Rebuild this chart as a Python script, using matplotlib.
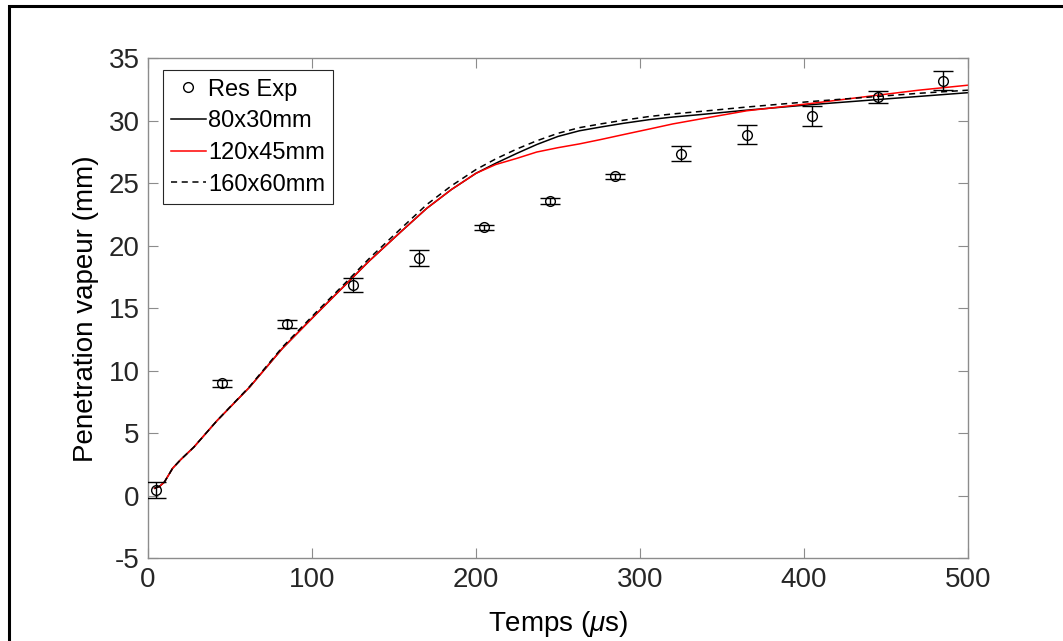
import matplotlib
matplotlib.use('Agg')
import matplotlib.pyplot as plt
from matplotlib.patches import Rectangle
from matplotlib.lines import Line2D
import numpy as np

plt.rcParams['font.family'] = ['Liberation Sans', 'DejaVu Sans']
plt.rcParams['mathtext.fontset'] = 'custom'
plt.rcParams['mathtext.it'] = 'Liberation Sans:italic'
plt.rcParams['mathtext.rm'] = 'Liberation Sans'
plt.rcParams['axes.unicode_minus'] = False

# experimental points
t_exp = [5, 45, 85, 125, 165, 205, 245, 285, 325, 365, 405, 445, 485]
y_exp = [0.45, 9.0, 13.75, 16.85, 19.0, 21.5, 23.6, 25.55, 27.35, 28.9, 30.35, 31.9, 33.2]
err_exp = [0.65, 0.3, 0.3, 0.55, 0.65, 0.2, 0.25, 0.2, 0.6, 0.75, 0.8, 0.45, 0.75]

# simulated curves
t_sim = [4, 7, 10, 15, 20, 28, 42, 62, 82, 103, 119, 135, 154, 170, 185, 200, 212, 225,
         237, 250, 263, 276, 290, 306, 320, 337, 365, 405, 445, 470, 500]
y_80 = [0.6, 0.75, 1.1, 2.2, 2.9, 3.9, 6.0, 8.7, 11.8, 14.6, 16.7, 18.8, 21.1, 23.0, 24.5,
        25.8, 26.6, 27.4, 28.1, 28.75, 29.2, 29.5, 29.8, 30.1, 30.3, 30.5, 30.85, 31.3,
        31.7, 31.95, 32.25]
y_120 = [0.6, 0.75, 1.1, 2.2, 2.9, 3.9, 6.0, 8.7, 11.8, 14.6, 16.7, 18.8, 21.1, 23.0, 24.5,
         25.8, 26.5, 27.0, 27.5, 27.85, 28.15, 28.5, 28.9, 29.35, 29.75, 30.15, 30.8, 31.4,
         32.05, 32.45, 32.85]
y_160 = [0.6, 0.75, 1.1, 2.2, 2.9, 3.9, 6.0, 8.75, 11.9, 14.75, 16.85, 19.0, 21.35, 23.3,
         24.8, 26.1, 26.95, 27.75, 28.4, 29.0, 29.45, 29.75, 30.05, 30.35, 30.55, 30.75, 31.1,
         31.55, 31.95, 32.2, 32.45]

fig = plt.figure(figsize=(10.63, 6.41), dpi=100)
ax = fig.add_axes([148/1063, 1-558.3/641, 820/1063, 500/641])

ax.errorbar(t_exp, y_exp, yerr=err_exp, fmt='o', mfc='none', mec='black', ecolor='black',
            color='black', ms=7, mew=1.0, elinewidth=1.0, capsize=7.5, capthick=1.0,
            zorder=3)
l1, = ax.plot(t_sim, y_80, color='black', lw=1.1)
l2, = ax.plot(t_sim, y_120, color='red', lw=1.1)
l3, = ax.plot(t_sim, y_160, color='black', lw=1.1, linestyle=(0, (4, 3)))

ax.set_xlim(0, 500)
ax.set_ylim(-5, 35)
ax.set_xticks(np.arange(0, 501, 100))
ax.set_yticks(np.arange(-5, 36, 5))

for s in ax.spines.values():
    s.set_color('#8c8c8c')
    s.set_linewidth(1.0)
ax.tick_params(direction='in', length=7, width=0.8, color='#8c8c8c', top=True, right=True,
               labelsize=20, labelcolor='#262626', pad=6)

ax.set_xlabel(r'Temps ($\mu$s)', fontsize=20, labelpad=12)
ax.set_ylabel('Penetration vapeur (mm)', fontsize=20, labelpad=7)

# legend with marker only for the measurements
exp_handle = Line2D([], [], marker='o', mfc='none', mec='black', ms=7, mew=1.0, ls='none')
leg = ax.legend([exp_handle, l1, l2, l3], ['Res Exp', '80x30mm', '120x45mm', '160x60mm'],
                loc='upper left', bbox_to_anchor=(15/820, 1-12/500), borderaxespad=0,
                fontsize=17, handlelength=1.45, handletextpad=0.1, labelspacing=0.41,
                borderpad=0.35, fancybox=False, framealpha=1)
leg.get_frame().set_edgecolor('#262626')
leg.get_frame().set_linewidth(0.8)

# outer frame of the original figure
fig.patches.append(Rectangle((9/1063, -0.1), 1.2, 0.1 + (641-6)/641, transform=fig.transFigure,
                             fill=False, edgecolor='black', lw=2.2))

fig.savefig('out.png', dpi=100)
